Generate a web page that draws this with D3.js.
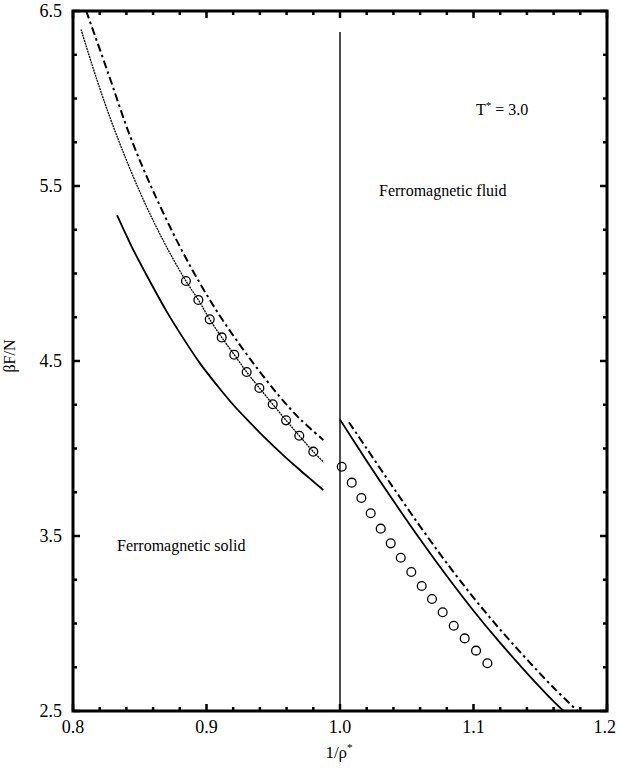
<!DOCTYPE html>
<html>
<head>
<meta charset="utf-8">
<script src="https://cdn.jsdelivr.net/npm/d3@7"></script>
<style>
    body { margin: 0; background: #fff; overflow: hidden; }
    svg { display: block; }
    text { font-family: "Liberation Serif", "Times New Roman", serif; fill: #000; }
</style>
</head>
<body>
<script>
const svgWidth = 617;
const svgHeight = 768;
const margin = {top: 11, right: 10, bottom: 57, left: 73};

// tick labels
const xMajorTicks = [0.8, 0.9, 1.0, 1.1, 1.2];
const yMajorTicks = [2.5, 3.5, 4.5, 5.5, 6.5];

// solid line, solid branch
const solidLeft = [
    [0.833, 5.334], [0.845, 5.138], [0.858, 4.950], [0.870, 4.785], [0.883, 4.625],
    [0.895, 4.488], [0.908, 4.360], [0.920, 4.250], [0.933, 4.145], [0.945, 4.052],
    [0.958, 3.958], [0.970, 3.877], [0.9787, 3.820], [0.9875, 3.763]
];
// dotted line, solid branch
const dottedLeft = [
    [0.806, 6.395], [0.8165, 6.140], [0.8277, 5.891], [0.839, 5.667], [0.8502, 5.464],
    [0.8614, 5.281], [0.8727, 5.115], [0.8846, 4.957], [0.8939, 4.849], [0.9024, 4.738],
    [0.9114, 4.635], [0.9208, 4.536], [0.9301, 4.437], [0.9396, 4.346], [0.9496, 4.253],
    [0.9596, 4.161], [0.9695, 4.073], [0.980, 3.982], [0.988, 3.920]
];
// dash-dot line, solid branch
const dashDotLeft = [
    [0.8099, 6.50], [0.8264, 6.144], [0.8427, 5.786], [0.8597, 5.477], [0.8801, 5.153],
    [0.8951, 4.944], [0.9101, 4.757], [0.9251, 4.591], [0.9401, 4.437], [0.9551, 4.294],
    [0.9700, 4.169], [0.9875, 4.049]
];
// simulation, solid branch
const circlesLeft = [
    [0.8846, 4.957], [0.8939, 4.849], [0.9024, 4.738], [0.9114, 4.635], [0.9208, 4.536],
    [0.9301, 4.437], [0.9396, 4.346], [0.9496, 4.253], [0.9596, 4.161], [0.9695, 4.073],
    [0.9800, 3.982]
];
// solid line, fluid branch
const solidRight = [
    [1.000, 4.165], [1.020, 3.929], [1.040, 3.701], [1.060, 3.481], [1.080, 3.271],
    [1.100, 3.073], [1.120, 2.889], [1.140, 2.717], [1.160, 2.555], [1.1675, 2.50]
];
// dash-dot line, fluid branch
const dashDotRight = [
    [1.0067, 4.150], [1.020, 4.000], [1.040, 3.775], [1.060, 3.555], [1.080, 3.345],
    [1.100, 3.148], [1.120, 2.965], [1.140, 2.795], [1.160, 2.633], [1.178, 2.50]
];
// simulation, fluid branch
const circlesRight = [
    [1.0013, 3.896], [1.0088, 3.805], [1.0160, 3.717], [1.0230, 3.630], [1.0305, 3.542],
    [1.0380, 3.458], [1.0455, 3.376], [1.0534, 3.294], [1.0612, 3.214], [1.0689, 3.140],
    [1.0769, 3.064], [1.0852, 2.987], [1.0934, 2.915], [1.1019, 2.845], [1.1104, 2.773]
];
// phase boundary
const boundary = [[1.0, 2.5], [1.0, 6.38]];

const svg = d3.select("body").append("svg").attr("width", svgWidth).attr("height", svgHeight);

const x = d3.scaleLinear().domain([0.8, 1.2]).range([margin.left, svgWidth - margin.right]);
const y = d3.scaleLinear().domain([2.5, 6.5]).range([svgHeight - margin.bottom, margin.top]);

const xMinor = d3.range(0.8, 1.2001, 0.02).map(v => +v.toFixed(2));
const yMinor = d3.range(2.5, 6.5001, 0.25);
const fmt = d3.format(".1f");

const x0 = x(0.8), x1 = x(1.2), y0 = y(2.5), y1 = y(6.5);

// frame
svg.append("path")
    .attr("d", `M${x0},${y1}L${x1},${y1}L${x1},${y0}L${x0},${y0}Z`)
    .attr("fill", "none")
    .attr("stroke", "black")
    .attr("stroke-width", 3);

// inward tick marks on all four sides
let tickD = "";
xMinor.forEach(function (v) {
    const len = xMajorTicks.includes(v) ? 7 : 4;
    tickD += `M${x(v)},${y0}L${x(v)},${y0 - len}M${x(v)},${y1}L${x(v)},${y1 + len}`;
});
yMinor.forEach(function (v) {
    const len = yMajorTicks.includes(v) ? 7 : 4;
    tickD += `M${x0},${y(v)}L${x0 + len},${y(v)}M${x1},${y(v)}L${x1 - len},${y(v)}`;
});
svg.append("path")
    .attr("d", tickD)
    .attr("fill", "none")
    .attr("stroke", "black")
    .attr("stroke-width", 2.5);

// tick labels as plain text
svg.selectAll("text.xlabel").data(xMajorTicks).join("text")
    .attr("class", "xlabel")
    .attr("x", d => d === 1.2 ? 616 : x(d))
    .attr("y", y0 + 22)
    .attr("text-anchor", d => d === 1.2 ? "end" : "middle")
    .attr("font-size", 18)
    .text(fmt);

svg.selectAll("text.ylabel").data(yMajorTicks).join("text")
    .attr("class", "ylabel")
    .attr("x", x0 - 11)
    .attr("y", d => y(d) + 6)
    .attr("text-anchor", "end")
    .attr("font-size", 18)
    .text(fmt);

const line = d3.line().x(d => x(d[0])).y(d => y(d[1])).curve(d3.curveCatmullRom.alpha(0.5));

const plot = svg.append("g");

plot.append("path").datum(boundary)
    .attr("d", d3.line().x(d => x(d[0])).y(d => y(d[1])))
    .attr("fill", "none").attr("stroke", "#000").attr("stroke-width", 1.4);

[solidLeft, solidRight].forEach(function (series) {
    plot.append("path").datum(series)
        .attr("d", line)
        .attr("fill", "none").attr("stroke", "#000").attr("stroke-width", 1.8);
});

[dashDotLeft, dashDotRight].forEach(function (series) {
    plot.append("path").datum(series)
        .attr("d", line)
        .attr("fill", "none").attr("stroke", "#000").attr("stroke-width", 2)
        .attr("stroke-dasharray", "8,3.5,2.5,3.5");
});

plot.append("path").datum(dottedLeft)
    .attr("d", line)
    .attr("fill", "none").attr("stroke", "#000").attr("stroke-width", 1.3)
    .attr("stroke-dasharray", "2,0.8");

plot.selectAll("circle.sim").data(circlesLeft.concat(circlesRight)).join("circle")
    .attr("class", "sim")
    .attr("cx", d => x(d[0]))
    .attr("cy", d => y(d[1]))
    .attr("r", 4.4)
    .attr("fill", "none")
    .attr("stroke", "#000")
    .attr("stroke-width", 1.3);

// annotations
const tLabel = svg.append("text").attr("x", 476).attr("y", 115).attr("font-size", 16);
tLabel.append("tspan").text("T");
tLabel.append("tspan").attr("font-size", 11).attr("dy", -6).text("*");
tLabel.append("tspan").attr("dy", 6).text(" = 3.0");

svg.append("text").attr("x", 379).attr("y", 196).attr("font-size", 16).text("Ferromagnetic fluid");
svg.append("text").attr("x", 117).attr("y", 551).attr("font-size", 16).text("Ferromagnetic solid");

// axis titles
const xTitle = svg.append("text").attr("x", 339).attr("y", 758).attr("font-size", 17)
    .attr("text-anchor", "middle");
xTitle.append("tspan").text("1/ρ");
xTitle.append("tspan").attr("font-size", 11).attr("dy", -7).text("*");

svg.append("text")
    .attr("transform", "translate(15,356) rotate(-90)")
    .attr("text-anchor", "middle")
    .attr("font-size", 16)
    .text("βF/N");
</script>
</body>
</html>
